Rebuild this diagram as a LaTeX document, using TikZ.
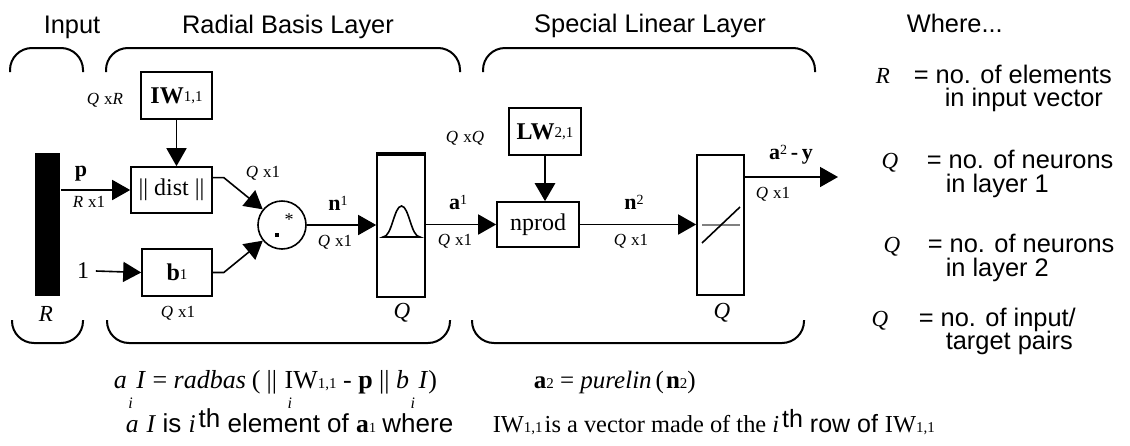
\documentclass[tikz,border=0pt]{standalone}
\usepackage{fontspec}
\setmainfont{Liberation Serif}
\setsansfont{Liberation Sans}
\usetikzlibrary{arrows.meta,calc}
\newcommand{\fs}[1]{\fontsize{#1}{#1}\selectfont}
\newcommand{\dm}[2]{\textit{#1}\hspace{2.5pt}x#2}
\newcommand{\sps}[1]{\raisebox{2.5pt}{\fs{7}\mdseries #1}}
\newcommand{\SF}{\fs{13}\sffamily}
\newcommand{\RM}{\fs{12.8}\rmfamily}
\newcommand{\SFb}{\fs{12.5}\sffamily}
\newcommand{\RMb}{\fs{12.2}\rmfamily}
\begin{document}
\begin{tikzpicture}[x=0.5pt,y=-0.5pt,line width=0.8pt,
  >={Triangle[length=9pt,width=10pt]},
  box/.style={draw,line width=0.8pt,inner sep=0pt},
  txt/.style={inner sep=0pt,font=\fs{12.7}\sffamily},
  dimlbl/.style={inner sep=0pt,font=\fs{8.5}},
  brace/.style={draw,line width=1pt,rounded corners=11pt},
  eq/.style={inner sep=0pt,font=\fs{13}},
  sig/.style={inner sep=0pt,font=\fs{11}\bfseries},
  ital/.style={inner sep=0pt,font=\fs{11.5}\itshape},
  isub/.style={inner sep=0pt,font=\fs{8}\itshape,anchor=base}]
\useasboundingbox (0,0) rectangle (1130,445);

% braces
\draw[brace] (10,72) -- (10,48) -- (83,48) -- (83,72);
\draw[brace] (106,72) -- (106,48) -- (460,48) -- (460,72);
\draw[brace] (483,72) -- (483,48) -- (815,48) -- (815,72);
\draw[brace] (12,320) -- (12,343) -- (83,343) -- (83,320);
\draw[brace] (107,320) -- (107,343) -- (450,343) -- (450,320);
\draw[brace] (472,320) -- (472,343) -- (804,343) -- (804,320);

% titles
\node[txt,anchor=base] (tin) at (72,33) {Input};
\node[txt,anchor=base] (trb) at (288,33) {Radial Basis Layer};
\node[txt,anchor=base] (tsl) at (650,32) {Special Linear Layer};
\node[txt,anchor=base west] (twh) at (906,32) {Where...};

% legend
\node[ital,anchor=base] (lR) at (883,83) {R};
\node[txt,anchor=base west] (lR1) at (913,83) {= no. of elements};
\node[txt,anchor=base west] (lR2) at (944,106) {in input vector};
\node[ital,anchor=base] (lQa) at (890,168) {Q};
\node[txt,anchor=base west] (lQa1) at (926,168) {= no. of neurons};
\node[txt,anchor=base west] (lQa2) at (945,192) {in layer 1};
\node[ital,anchor=base] (lQb) at (892,252) {Q};
\node[txt,anchor=base west] (lQb1) at (927,252) {= no. of neurons};
\node[txt,anchor=base west] (lQb2) at (945,276) {in layer 2};
\node[ital,anchor=base] (lQc) at (880,326) {Q};
\node[txt,anchor=base west] (lQc1) at (918,326) {= no. of input/};
\node[txt,anchor=base west] (lQc2) at (945,349) {target pairs};

% blocks
\node[fill=black,minimum width=12.5pt,minimum height=71.5pt,inner sep=0pt] (bar) at (47.5,224.5) {};
\node[box,minimum width=40.5pt,minimum height=23pt,font=\fs{12}] (dist) at (171.5,190) {|| dist ||};
\node[box,minimum width=35.5pt,minimum height=23.5pt,font=\fs{12}] (IW) at (176.5,95.5) {\textbf{IW}\raisebox{0.8pt}{\fs{7.5}1,1}};
\node[box,minimum width=35pt,minimum height=23.5pt,font=\fs{12}] (b) at (177,272.5) {\textbf{b}\raisebox{0.8pt}{\fs{7.5}1}};
\node[draw,circle,minimum size=24pt,inner sep=0pt] (circ) at (282,225) {};
\node[inner sep=0pt,font=\fs{9}] (star) at (289,220) {*};
\fill (274.5,233) rectangle (278.5,237);
\node[box,minimum width=24pt,minimum height=71pt] (rb) at (401,226) {};
\draw[line width=1.8pt] (rb.north west) -- (rb.north east);
\draw (383,237) .. controls (392,237) and (394,206) .. (401.5,206) .. controls (409,206) and (411,237) .. (420,237) -- cycle;
\node[box,minimum width=41pt,minimum height=22.5pt,font=\fs{12}] (np) at (538,224.5) {nprod};
\node[box,minimum width=36pt,minimum height=23.5pt,font=\fs{12}] (LW) at (545,131.5) {\textbf{LW}\raisebox{0.8pt}{\fs{7.5}2,1}};
\node[box,minimum width=23.5pt,minimum height=70pt] (pl) at (720.5,225) {};
\draw[gray,line width=0.6pt] (702,225) -- (740,225);
\draw (702,243) -- (740,207);
\coordinate (out) at (838,177);
\node[inner sep=0pt,font=\fs{12}] (one) at (83,271) {1};

% connectors
\draw[->] (bar.east |- dist.west) -- (dist.west);
\draw[->] ([xshift=3pt]one.east) -- (b.west);
\draw[->] ($(dist.north east)!0.24!(dist.south east)$) -- ++(11,0) -- (circ);
\draw[->] (b.east) -- ++(11,0) -- (circ);
\draw[->] (circ.east) -- (circ.east -| rb.west);
\draw[->] (rb.east |- np.west) -- (np.west);
\draw[->] (IW.south) -- (IW.south |- dist.north);
\draw[->,line width=1.4pt] (LW.south) -- (LW.south |- np.north);
\draw[->] (np.east) -- (np.east -| pl.west);
\draw[->] (pl.east |- out) -- (out);

% labels
\node[sig,anchor=base] (plbl) at (81,176) {p};
\node[dimlbl] (rx1) at (89,202) {\dm{R}{1}};
\node[dimlbl] (qxr) at (105,100) {\dm{Q}{\textit{R}}};
\node[dimlbl] (qx1a) at (263,173) {\dm{Q}{1}};
\node[sig] (n1) at (338,203) {n\sps{1}};
\node[dimlbl] (qx1b) at (335,242) {\dm{Q}{1}};
\node[dimlbl] (qx1c) at (178,313) {\dm{Q}{1}};
\node[ital] (Rl) at (46,314) {R};
\node[ital] (Qrb) at (402,313) {Q};
\node[sig] (a1) at (458,202) {a\sps{1}};
\node[dimlbl] (qx1d) at (455,241) {\dm{Q}{1}};
\node[dimlbl] (qxq) at (465,138) {\dm{Q}{\textit{Q}}};
\node[sig] (n2) at (634,202) {n\sps{2}};
\node[dimlbl] (qx1e) at (631,241) {\dm{Q}{1}};
\node[sig] (a2y) at (791,155) {a\sps{2}\,-\,y};
\node[dimlbl] (qx1f) at (773,194) {\dm{Q}{1}};
\node[ital] (Qpl) at (722,313) {Q};

% equations
\node[eq,anchor=base west] (e1) at (113,388) {\textit{a}};
\node[eq,anchor=base west] (e2) at (e1.base east) {\hspace{4pt}\textit{I} = \textit{radbas}\hspace{3pt}(\hspace{3pt}||};
\node[eq,anchor=base west] (e3) at ([xshift=3pt]e2.base east) {IW{\fs{7.5}1,1} - \textbf{p} || \textit{b}};
\node[eq,anchor=base west] (e4) at (e3.base east) {\hspace{4pt}\textit{I})};
\node[isub] (i1) at ($(e1.base east)+(3,20)$) {i};
\node[isub] (i2) at ($(e3.base west)+(6,20)$) {i};
\node[isub] (i3) at ($(e3.base east)+(3,20)$) {i};
\node[eq,anchor=base west,font=\fs{12.5}] (e5) at (533,388) {\textbf{a}{\fs{7.5}2} = \textit{purelin}\hspace{2pt}(\hspace{1pt}\textbf{n}{\fs{7.5}2})};

\node[inner sep=0pt,anchor=base west] (l2a) at (125,432) {\RM\textit{a}\hspace{4pt}\textit{I} \SF is \RM\textit{i}\hspace{1.5pt}\SF\raisebox{2.5pt}{th} element of \RM\textbf{a}{\fs{7}1} \SF where};
\node[inner sep=0pt,anchor=base west] (l2b) at ([xshift=19pt]l2a.base east) {\RMb IW{\fs{7.5}1,1}\hspace{1pt}is a vector made of the \textit{i}\hspace{1.5pt}\SFb\raisebox{2.5pt}{th} row of \RMb IW{\fs{7.5}1,1}};
\end{tikzpicture}
\end{document}
